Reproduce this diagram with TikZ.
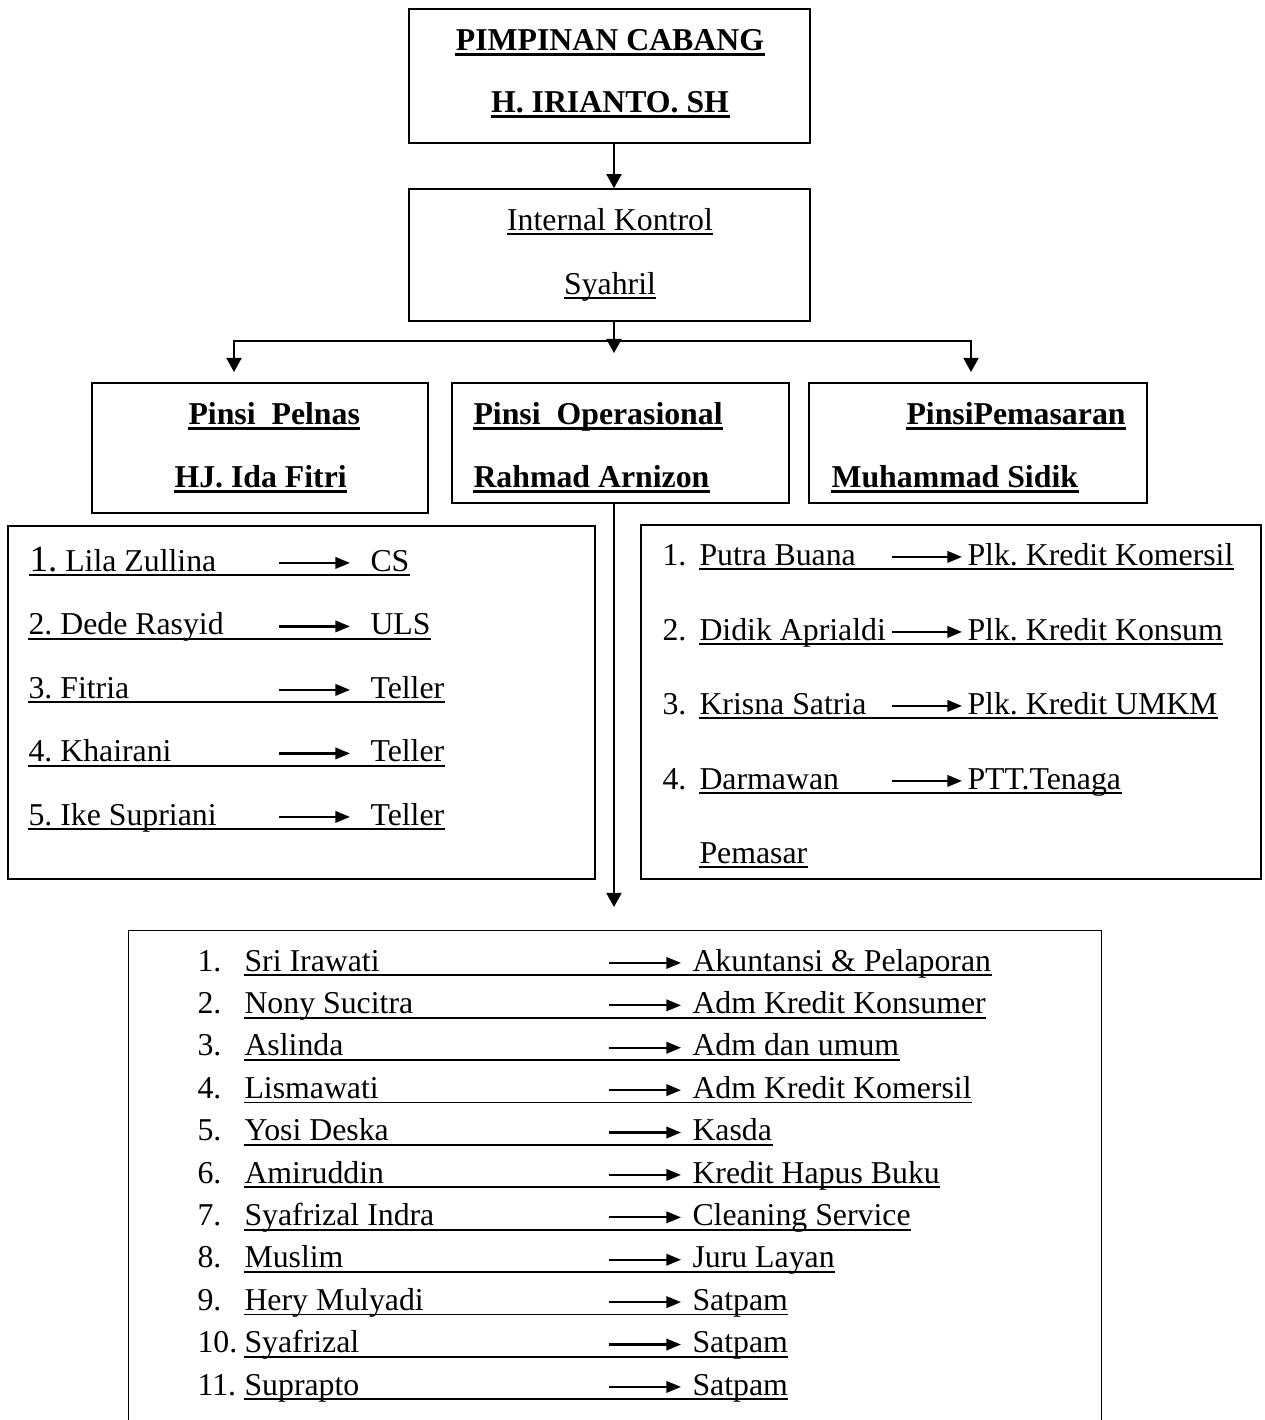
\documentclass[tikz,border=0pt]{standalone}
\usepackage{fontspec}
\setmainfont{Liberation Serif}
\usetikzlibrary{arrows.meta,fit}
\frenchspacing

\begin{document}
\begin{tikzpicture}[
  x=0.3774pt, y=-0.3774pt,
  every node/.style={inner sep=0pt,font=\fontsize{12pt}{14pt}\selectfont},
  box/.style={draw,line width=0.6pt,fit={#1}},
  title/.style={anchor=base,text depth=1.5pt,font=\fontsize{12pt}{14pt}\selectfont\bfseries},
  plain/.style={anchor=base,text depth=1.4pt},
  head/.style={anchor=base west,text depth=1.5pt,font=\fontsize{12pt}{14pt}\selectfont\bfseries},
  item/.style={anchor=base west,text height=7.5pt,text depth=1.4pt},
  uline/.style={line width=0.65pt},
  huline/.style={line width=0.85pt},
  conn/.style={draw,line width=0.6pt,-{Triangle[length=5.3pt,width=5.7pt]}},
  pointer/.style={line width=0.85pt,-{Triangle[length=5.5pt,width=4.3pt]}},
  ]
  \useasboundingbox (0,0) rectangle (1265,1420);

  % boxes
  \node[box={(409,9) (810,143)}](chief){};
  \node[box={(409,189) (810,321)}](ctrl){};
  \node[box={(92,383) (428,513)}](pelnas){};
  \node[box={(452,383) (789,503)}](ops){};
  \node[box={(809,383) (1147,503)}](mkt){};
  \node[box={(8,526) (595,879)}](pelnaslist){};
  \node[box={(641,525) (1261,879)}](mktlist){};
  \node[fit={(129,931) (1101,1420)}](opslist){};
  \draw[line width=0.6pt] (opslist.south west) |- (opslist.north east) -- (opslist.south east);

  % headings
  \node[title](chief1) at (610,50){PIMPINAN CABANG};
  \node[title](chief2) at (610,112){H. IRIANTO. SH};
  \node[plain](ctrl1) at (610,230){Internal Kontrol};
  \node[plain](ctrl2) at (610,294){Syahril};
  \node[head](pelnas1) at (188,424){Pinsi\ \ Pelnas};
  \node[head](pelnas2) at (174,487){HJ. Ida Fitri};
  \node[head](ops1) at (473,424){Pinsi\ \ Operasional};
  \node[head](ops2) at (473,487){Rahmad Arnizon};
  \node[head](mkt1) at (906,424){PinsiPemasaran};
  \node[head](mkt2) at (831,487){Muhammad Sidik};

  % connectors
  \coordinate (hub) at (614,341);
  \coordinate (hubtip) at (614,353);
  \coordinate (pelnastip) at (234,372);
  \coordinate (mkttip) at (971,372);
  \coordinate (opstip) at (614,907);
  \draw[conn] (chief.south -| hub) -- (ctrl.north -| hub);
  \draw[conn] (ctrl.south -| hub) -- (hubtip);
  \draw[conn] (hub) -| (pelnastip);
  \draw[conn] (hub) -| (mkttip);
  \draw[conn] (ops.south -| opstip) -- (opstip);

  % pelnas staff
  \node[item](p1) at (29,571){{\fontsize{14pt}{14pt}\selectfont 1.} Lila Zullina};
  \node[item](p1r) at (370,571){CS};
  \node[item](p2) at (28,634.5){2. Dede Rasyid};
  \node[item](p2r) at (370,634.5){ULS};
  \node[item](p3) at (28,698){3. Fitria};
  \node[item](p3r) at (370,698){Teller};
  \node[item](p4) at (28,761.5){4. Khairani};
  \node[item](p4r) at (370,761.5){Teller};
  \node[item](p5) at (28,825){5. Ike Supriani};
  \node[item](p5r) at (370,825){Teller};

  % pemasaran staff
  \node[item](m1n) at (662,565){1.};
  \node[item](m1) at (699,565){Putra Buana};
  \node[item](m1r) at (967,565){Plk. Kredit Komersil};
  \node[item](m2n) at (662,640){2.};
  \node[item](m2) at (699,640){Didik Aprialdi};
  \node[item](m2r) at (967,640){Plk. Kredit Konsum};
  \node[item](m3n) at (662,714){3.};
  \node[item](m3) at (699,714){Krisna Satria};
  \node[item](m3r) at (967,714){Plk. Kredit UMKM};
  \node[item](m4n) at (662,789){4.};
  \node[item](m4) at (699,789){Darmawan};
  \node[item](m4r) at (967,789){PTT.Tenaga};
  \node[item](m5) at (699,863){Pemasar};

  % operasional staff
  \node[item](o1n) at (197,971){1.};
  \node[item](o1) at (244,971){Sri Irawati};
  \node[item](o1r) at (692,971){Akuntansi \& Pelaporan};
  \node[item](o2n) at (197,1013.4){2.};
  \node[item](o2) at (244,1013.4){Nony Sucitra};
  \node[item](o2r) at (692,1013.4){Adm Kredit Konsumer};
  \node[item](o3n) at (197,1055.8){3.};
  \node[item](o3) at (244,1055.8){Aslinda};
  \node[item](o3r) at (692,1055.8){Adm dan umum};
  \node[item](o4n) at (197,1098.2){4.};
  \node[item](o4) at (244,1098.2){Lismawati};
  \node[item](o4r) at (692,1098.2){Adm Kredit Komersil};
  \node[item](o5n) at (197,1140.6){5.};
  \node[item](o5) at (244,1140.6){Yosi Deska};
  \node[item](o5r) at (692,1140.6){Kasda};
  \node[item](o6n) at (197,1183){6.};
  \node[item](o6) at (244,1183){Amiruddin};
  \node[item](o6r) at (692,1183){Kredit Hapus Buku};
  \node[item](o7n) at (197,1225.4){7.};
  \node[item](o7) at (244,1225.4){Syafrizal Indra};
  \node[item](o7r) at (692,1225.4){Cleaning Service};
  \node[item](o8n) at (197,1267.8){8.};
  \node[item](o8) at (244,1267.8){Muslim};
  \node[item](o8r) at (692,1267.8){Juru Layan};
  \node[item](o9n) at (197,1310.2){9.};
  \node[item](o9) at (244,1310.2){Hery Mulyadi};
  \node[item](o9r) at (692,1310.2){Satpam};
  \node[item](o10n) at (197,1352.6){10.};
  \node[item](o10) at (244,1352.6){Syafrizal};
  \node[item](o10r) at (692,1352.6){Satpam};
  \node[item](o11n) at (197,1395){11.};
  \node[item](o11) at (244,1395){Suprapto};
  \node[item](o11r) at (692,1395){Satpam};

  % underlines
  \path[huline]
  (chief1.south west) edge (chief1.south east)
  (chief2.south west) edge (chief2.south east)
  (pelnas1.south west) edge (pelnas1.south east)
  (pelnas2.south west) edge (pelnas2.south east)
  (ops1.south west) edge (ops1.south east)
  (ops2.south west) edge (ops2.south east)
  (mkt1.south west) edge (mkt1.south east)
  (mkt2.south west) edge (mkt2.south east);
  \path[uline]
  (ctrl1.south west) edge (ctrl1.south east)
  (ctrl2.south west) edge (ctrl2.south east)
  (p1.south west) edge (p1r.south east)
  (p2.south west) edge (p2r.south east)
  (p3.south west) edge (p3r.south east)
  (p4.south west) edge (p4r.south east)
  (p5.south west) edge (p5r.south east)
  (m1.south west) edge (m1r.south east)
  (m2.south west) edge (m2r.south east)
  (m3.south west) edge (m3r.south east)
  (m4.south west) edge (m4r.south east)
  (m5.south west) edge (m5.south east)
  (o1.south west) edge (o1r.south east)
  (o2.south west) edge (o2r.south east)
  (o3.south west) edge (o3r.south east)
  (o4.south west) edge (o4r.south east)
  (o5.south west) edge (o5r.south east)
  (o6.south west) edge (o6r.south east)
  (o7.south west) edge (o7r.south east)
  (o8.south west) edge (o8r.south east)
  (o9.south west) edge (o9r.south east)
  (o10.south west) edge (o10r.south east)
  (o11.south west) edge (o11r.south east);

  % arrows to jobs
  \coordinate (lA) at (279,0);
  \coordinate (lB) at (350,0);
  \coordinate (rA) at (892,0);
  \coordinate (rB) at (962,0);
  \coordinate (bA) at (609,0);
  \coordinate (bB) at (681,0);
  \path[pointer]
  (p1r.west -| lA) edge (p1r.west -| lB)
  (p2r.west -| lA) edge (p2r.west -| lB)
  (p3r.west -| lA) edge (p3r.west -| lB)
  (p4r.west -| lA) edge (p4r.west -| lB)
  (p5r.west -| lA) edge (p5r.west -| lB)
  (m1r.west -| rA) edge (m1r.west -| rB)
  (m2r.west -| rA) edge (m2r.west -| rB)
  (m3r.west -| rA) edge (m3r.west -| rB)
  (m4r.west -| rA) edge (m4r.west -| rB)
  (o1r.west -| bA) edge (o1r.west -| bB)
  (o2r.west -| bA) edge (o2r.west -| bB)
  (o3r.west -| bA) edge (o3r.west -| bB)
  (o4r.west -| bA) edge (o4r.west -| bB)
  (o5r.west -| bA) edge (o5r.west -| bB)
  (o6r.west -| bA) edge (o6r.west -| bB)
  (o7r.west -| bA) edge (o7r.west -| bB)
  (o8r.west -| bA) edge (o8r.west -| bB)
  (o9r.west -| bA) edge (o9r.west -| bB)
  (o10r.west -| bA) edge (o10r.west -| bB)
  (o11r.west -| bA) edge (o11r.west -| bB);
\end{tikzpicture}
\end{document}
